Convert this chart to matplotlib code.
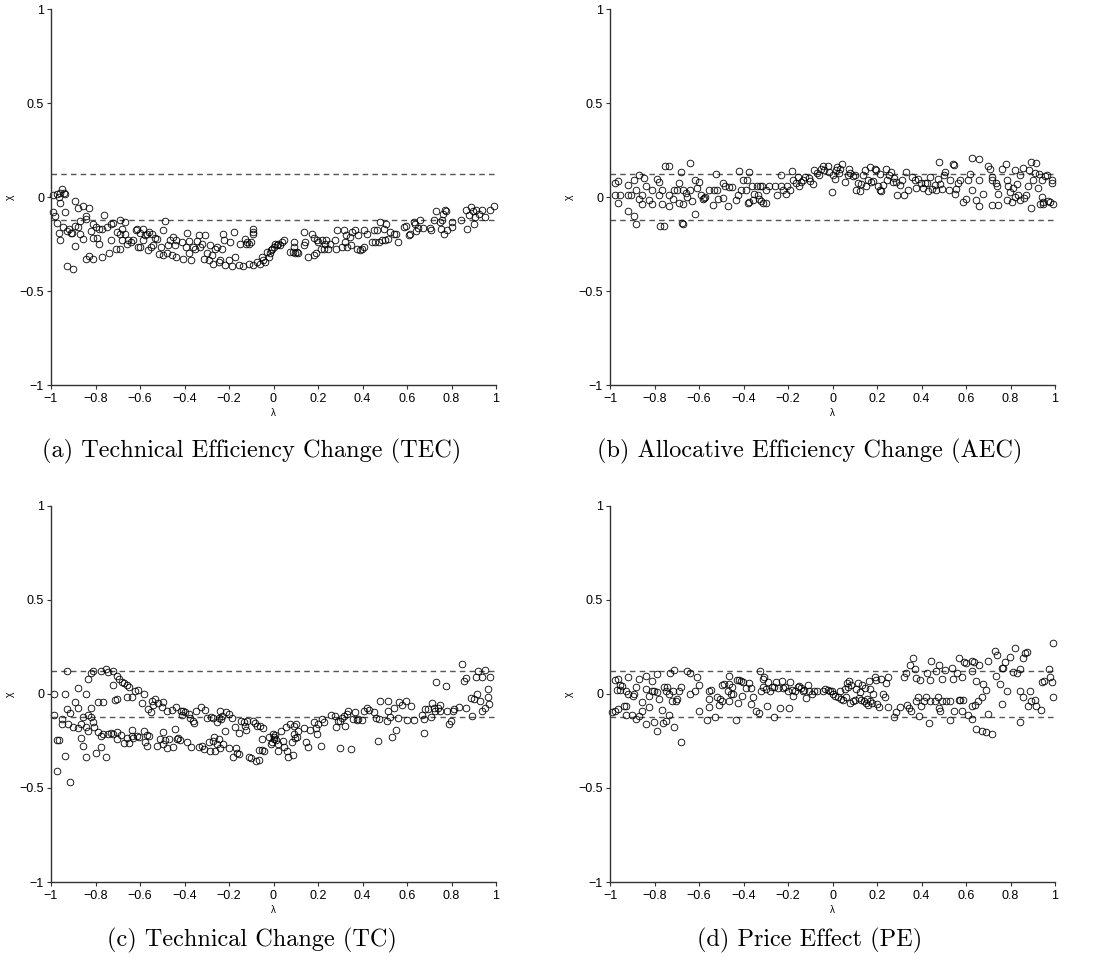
import numpy as np
import matplotlib
matplotlib.use("Agg")
import matplotlib.pyplot as plt

plt.rcParams['font.family'] = ['Liberation Sans', 'DejaVu Sans']

# (a) Technical Efficiency Change
tec_lam = [-0.99, -0.975, -0.96, -0.95, -0.94, -0.935, -0.96, -0.965, -0.99, -0.98, -0.975, -0.965,
           -0.96, -0.945, -0.935, -0.93, -0.92, -0.91, -0.905, -0.93, -0.903,
           -0.89, -0.88, -0.87, -0.89, -0.88, -0.89, -0.87, -0.855, -0.855, -0.843, -0.843, -0.83,
           -0.843, -0.83, -0.81, -0.82, -0.81, -0.81, -0.8, -0.795, -0.785, -0.785, -0.77, -0.77,
           -0.763, -0.75, -0.74, -0.73, -0.73, -0.72, -0.71, -0.705, -0.69, -0.69, -0.69, -0.68,
           -0.68, -0.667, -0.667, -0.66, -0.652, -0.64, -0.63, -0.618, -0.615, -0.607, -0.6, -0.6,
           -0.588, -0.585, -0.577, -0.57, -0.562, -0.558, -0.552, -0.544, -0.54, -0.532, -0.525,
           -0.513, -0.505, -0.495, -0.487, -0.495, -0.48, -0.472, -0.465, -0.457, -0.45, -0.442,
           -0.436, -0.436, -0.412, -0.405, -0.394, -0.39, -0.382, -0.38, -0.372, -0.363, -0.352,
           -0.342, -0.333, -0.33, -0.322, -0.312, -0.307, -0.3, -0.292, -0.285, -0.277, -0.27,
           -0.262, -0.255, -0.247, -0.24, -0.232, -0.225, -0.222, -0.217, -0.202, -0.195, -0.187,
           -0.177, -0.172, -0.157, -0.15, -0.135, -0.127, -0.124, -0.117, -0.11, -0.112, -0.102,
           -0.09, -0.09, -0.09, -0.094, -0.075, -0.06, -0.052, -0.045, -0.037, -0.03, -0.022,
           -0.015, -0.012, -0.007, 0.0, 0.007, 0.015, 0.022, 0.03, 0.037, 0.045, 0.075, 0.087,
           0.093, 0.093, 0.097, 0.105, 0.112, 0.135, 0.138, 0.142, 0.157, 0.172, 0.18, 0.183, 0.19,
           0.195, 0.202, 0.213, 0.217, 0.225, 0.232, 0.237, 0.247, 0.255, 0.277, 0.285, 0.282,
           0.307, 0.315, 0.32, 0.325, 0.33, 0.345, 0.35, 0.355, 0.367, 0.375, 0.382, 0.39, 0.397,
           0.405, 0.408, 0.42, 0.442, 0.45, 0.457, 0.465, 0.472, 0.48, 0.487, 0.495, 0.502, 0.507,
           0.513, 0.525, 0.54, 0.552, 0.559, 0.588, 0.597, 0.607, 0.615, 0.63, 0.637, 0.642, 0.649,
           0.657, 0.672, 0.702, 0.708, 0.72, 0.732, 0.747, 0.753, 0.757, 0.762, 0.765, 0.772,
           0.777, 0.78, 0.8, 0.8, 0.842, 0.865, 0.87, 0.877, 0.888, 0.897, 0.903, 0.907, 0.912,
           0.922, 0.937, 0.952, 0.975, 0.99]
tec_chi = [0.01, 0.015, 0.02, 0.04, 0.02, 0.015, -0.03, 0.0, -0.08, -0.1, -0.14, -0.19,
           -0.23, -0.16, -0.08, -0.18, -0.17, -0.19, -0.19, -0.367, -0.383,
           -0.02, -0.057, -0.13, -0.155, -0.16, -0.26, -0.195, -0.225, -0.048, -0.1, -0.115, -0.06,
           -0.33, -0.315, -0.33, -0.18, -0.145, -0.22, -0.16, -0.22, -0.25, -0.17, -0.17, -0.32,
           -0.094, -0.16, -0.3, -0.23, -0.145, -0.14, -0.275, -0.186, -0.275, -0.12, -0.195, -0.17,
           -0.23, -0.133, -0.195, -0.25, -0.23, -0.24, -0.23, -0.177, -0.17, -0.266, -0.19, -0.266,
           -0.17, -0.23, -0.2, -0.195, -0.284, -0.186, -0.266, -0.195, -0.257, -0.22, -0.225,
           -0.305, -0.266, -0.177, -0.13, -0.31, -0.3, -0.257, -0.23, -0.31, -0.213, -0.257,
           -0.23, -0.32, -0.24, -0.328, -0.266, -0.19, -0.234, -0.3, -0.337, -0.266, -0.275,
           -0.234, -0.204, -0.266, -0.248, -0.328, -0.2, -0.3, -0.337, -0.253, -0.307, -0.355,
           -0.275, -0.266, -0.346, -0.337, -0.275, -0.195, -0.23, -0.363, -0.337, -0.24, -0.367,
           -0.186, -0.32, -0.363, -0.248, -0.369, -0.222, -0.248, -0.24, -0.248, -0.355, -0.24,
           -0.168, -0.186, -0.195, -0.363, -0.346, -0.355, -0.32, -0.337, -0.346, -0.293, -0.32,
           -0.3, -0.284, -0.275, -0.266, -0.248, -0.257, -0.248, -0.257, -0.24, -0.227, -0.293, -0.293,
           -0.24, -0.266, -0.3, -0.293, -0.3, -0.186, -0.257, -0.24, -0.32, -0.195, -0.31, -0.216, -0.3,
           -0.23, -0.24, -0.275, -0.227, -0.275, -0.248, -0.227, -0.275, -0.248, -0.23, -0.177, -0.275,
           -0.266, -0.177, -0.24, -0.204, -0.266, -0.213, -0.257, -0.186, -0.177, -0.275, -0.204, -0.284, -0.275,
           -0.177, -0.266, -0.195, -0.24, -0.177, -0.24, -0.177, -0.24, -0.133, -0.23, -0.168, -0.23, -0.142,
           -0.225, -0.186, -0.195, -0.195, -0.24, -0.16, -0.156, -0.204, -0.195, -0.133, -0.142, -0.18, -0.163,
           -0.124, -0.165, -0.165, -0.174, -0.124, -0.076, -0.133, -0.168, -0.124, -0.089, -0.195, -0.071,
           -0.074, -0.177, -0.133, -0.16, -0.124, -0.071, -0.168, -0.098, -0.053, -0.074, -0.145, -0.106, -0.067,
           -0.089, -0.071, -0.106, -0.071, -0.05]

# (b) Allocative Efficiency Change
aec_lam = [-0.977, -0.964, -0.977, -0.955, -0.964, -0.919, -0.917, -0.907, -0.917, -0.893, -0.881,
           -0.892, -0.881, -0.869, -0.869, -0.857, -0.857, -0.845, -0.836, -0.824, -0.812, -0.812,
           -0.791, -0.779, -0.779, -0.767, -0.767, -0.776, -0.757, -0.754, -0.734, -0.734, -0.734,
           -0.719, -0.712, -0.701, -0.692, -0.692, -0.682, -0.677, -0.671, -0.671, -0.671, -0.659,
           -0.652, -0.641, -0.641, -0.632, -0.62, -0.62, -0.61, -0.601, -0.589, -0.583, -0.578,
           -0.572, -0.554, -0.536, -0.532, -0.524, -0.517, -0.514, -0.494, -0.494, -0.485, -0.47,
           -0.467, -0.452, -0.434, -0.425, -0.419, -0.41, -0.404, -0.391, -0.383, -0.381, -0.374,
           -0.374, -0.362, -0.356, -0.351, -0.341, -0.336, -0.329, -0.326, -0.321, -0.317, -0.311,
           -0.299, -0.299, -0.287, -0.257, -0.251, -0.231, -0.231, -0.221, -0.209, -0.206, -0.191,
           -0.183, -0.179, -0.164, -0.156, -0.149, -0.141, -0.134, -0.125, -0.107, -0.101, -0.089,
           -0.081, -0.071, -0.059, -0.051, -0.044, -0.036, -0.021, -0.014, -0.002, 0.002, 0.009,
           0.017, 0.021, 0.029, 0.035, 0.044, 0.054, 0.069, 0.074, 0.08, 0.092, 0.099, 0.107, 0.114,
           0.122, 0.129, 0.137, 0.144, 0.152, 0.159, 0.17, 0.174, 0.182, 0.189, 0.197, 0.204, 0.212,
           0.215, 0.219, 0.227, 0.239, 0.245, 0.254, 0.264, 0.272, 0.275, 0.287, 0.291, 0.302, 0.314,
           0.32, 0.332, 0.339, 0.359, 0.369, 0.377, 0.384, 0.399, 0.407, 0.414, 0.425, 0.429, 0.437,
           0.449, 0.459, 0.464, 0.474, 0.479, 0.485, 0.494, 0.5, 0.505, 0.524, 0.53, 0.542, 0.547,
           0.55, 0.557, 0.563, 0.575, 0.587, 0.599, 0.607, 0.617, 0.628, 0.628, 0.647, 0.658, 0.658,
           0.659, 0.677, 0.7, 0.71, 0.715, 0.719, 0.719, 0.734, 0.74, 0.745, 0.745, 0.764, 0.779,
           0.785, 0.79, 0.785, 0.797, 0.805, 0.812, 0.82, 0.82, 0.83, 0.835, 0.842, 0.842, 0.854,
           0.86, 0.868, 0.877, 0.884, 0.89, 0.89, 0.902, 0.91, 0.914, 0.925, 0.928, 0.932, 0.94,
           0.94, 0.944, 0.947, 0.955, 0.962, 0.97, 0.977, 0.985, 0.988, 0.992]
aec_chi = [0.074, 0.085, 0.012, 0.012, -0.032, 0.066, 0.012, 0.012, -0.076, -0.1, -0.145,
           0.089, 0.035, 0.115, -0.012, -0.035, 0.012, 0.103, 0.057, -0.018, -0.035, 0.039,
           0.098, 0.08, 0.012, 0.039, -0.035, -0.156, -0.156, 0.163, 0.163, 0.012, -0.05,
           -0.012, 0.035, 0.039, 0.074, -0.03, 0.133, -0.138, -0.142, -0.039, 0.035, 0.023,
           0.0, 0.181, 0.039, -0.023, 0.092, -0.092, 0.05, 0.08, 0.009, -0.012, -0.004,
           0.0, 0.039, -0.044, 0.039, 0.124, 0.035, -0.012, 0.074, -0.004, 0.057, -0.048,
           0.053, 0.053, -0.018, 0.009, 0.138, 0.039, 0.092, 0.039, 0.089, -0.032, 0.133,
           -0.027, 0.057, -0.014, 0.018, 0.057, 0.009, -0.009, 0.057, -0.023, 0.057, -0.032,
           -0.032, 0.035, 0.057, 0.057, 0.009, 0.115, 0.057, 0.035, 0.018, 0.057, 0.035,
           0.137, 0.092, 0.074, 0.106, 0.057, 0.08, 0.092, 0.106, 0.103, 0.083, 0.071,
           0.142, 0.128, 0.115, 0.151, 0.163, 0.145, 0.163, 0.133, 0.027, 0.115, 0.094,
           0.142, 0.16, 0.128, 0.151, 0.174, 0.08, 0.115, 0.151, 0.128, 0.11, 0.115, 0.035, 0.074,
           0.032, 0.071, 0.115, 0.142, 0.057, 0.092, 0.16, 0.08, 0.085, 0.151, 0.142, 0.057, 0.039,
           0.12, 0.032, 0.062, 0.151, 0.092, 0.115, 0.133, 0.08, 0.103, 0.08, 0.009, 0.062, 0.089,
           0.012, 0.133, 0.039, 0.106, 0.089, 0.05, 0.098, 0.074, 0.05, 0.074, 0.074, 0.032, 0.106,
           0.044, 0.062, 0.039, 0.098, 0.186, 0.067, 0.044, 0.115, 0.133, 0.039, 0.092, 0.177, 0.168,
           0.018, 0.044, 0.074, 0.092, -0.027, -0.012, 0.089, 0.12, 0.209, 0.035, -0.014, 0.2, -0.05,
           0.089, 0.018, 0.165, 0.151, 0.089, 0.106, -0.044, 0.074, 0.057, 0.018, -0.041, 0.151, 0.177,
           0.092, 0.057, -0.014, 0.027, -0.027, 0.05, 0.142, 0.0, 0.071, 0.009, 0.119, -0.018, 0.156,
           -0.004, 0.009, 0.057, 0.142, -0.059, 0.186, 0.092, 0.128, 0.183, 0.05, 0.12, -0.035, 0.089,
           0.0, -0.035, -0.027, 0.11, 0.115, -0.021, -0.027, 0.089, 0.074, -0.039]

# (c) Technical Change
tc_lam = [-0.987, -0.987, -0.975, -0.963, -0.975, -0.951, -0.951, -0.939, -0.939, -0.927, -0.927,
          -0.922, -0.915, -0.915, -0.903, -0.891, -0.877, -0.877, -0.877, -0.867, -0.867, -0.855,
          -0.855, -0.843, -0.843, -0.843, -0.832, -0.832, -0.832, -0.822, -0.82, -0.82, -0.81, -0.81,
          -0.807, -0.798, -0.787, -0.787, -0.777, -0.777, -0.777, -0.765, -0.765, -0.753, -0.753,
          -0.742, -0.742, -0.732, -0.72, -0.72, -0.72, -0.712, -0.705, -0.702, -0.702, -0.702,
          -0.693, -0.687, -0.682, -0.672, -0.672, -0.66, -0.66, -0.66, -0.648, -0.648, -0.637,
          -0.637, -0.637, -0.63, -0.622, -0.615, -0.61, -0.603, -0.592, -0.582, -0.582, -0.577,
          -0.57, -0.57, -0.562, -0.558, -0.552, -0.547, -0.54, -0.532, -0.525, -0.517, -0.51,
          -0.502, -0.498, -0.495, -0.495, -0.487, -0.48, -0.48, -0.468, -0.457, -0.453, -0.442,
          -0.438, -0.435, -0.427, -0.42, -0.417, -0.412, -0.405, -0.397, -0.39, -0.382, -0.375,
          -0.372, -0.363, -0.357, -0.348, -0.333, -0.327, -0.322, -0.312, -0.307, -0.3, -0.292,
          -0.285, -0.282, -0.273, -0.27, -0.267, -0.262, -0.255, -0.252, -0.247, -0.244, -0.24,
          -0.24, -0.237, -0.232, -0.225, -0.217, -0.213, -0.202, -0.198, -0.187, -0.18, -0.175,
          -0.168, -0.162, -0.157, -0.153, -0.147, -0.132, -0.127, -0.123, -0.117, -0.108, -0.102,
          -0.094, -0.082, -0.078, -0.072, -0.067, -0.067, -0.06, -0.052, -0.052, -0.045, -0.042,
          -0.018, -0.012, -0.007, -0.003, 0.0, 0.003, 0.007, 0.012, 0.018, 0.022, 0.033, 0.042,
          0.048, 0.055, 0.06, 0.067, 0.075, 0.082, 0.087, 0.09, 0.093, 0.097, 0.102, 0.105, 0.112,
          0.138, 0.147, 0.153, 0.162, 0.183, 0.192, 0.195, 0.198, 0.213, 0.217, 0.228, 0.258,
          0.277, 0.282, 0.288, 0.297, 0.3, 0.307, 0.315, 0.322, 0.33, 0.337, 0.348, 0.357, 0.367,
          0.375, 0.382, 0.397, 0.405, 0.42, 0.427, 0.45, 0.462, 0.468, 0.472, 0.48, 0.51, 0.513,
          0.514, 0.525, 0.532, 0.543, 0.552, 0.558, 0.562, 0.577, 0.597, 0.6, 0.618, 0.63, 0.667,
          0.678, 0.678, 0.682, 0.693, 0.708, 0.712, 0.722, 0.727, 0.732, 0.738, 0.747, 0.75, 0.777,
          0.78, 0.787, 0.797, 0.806, 0.813, 0.832, 0.847, 0.855, 0.867, 0.867, 0.888, 0.892, 0.9,
          0.912, 0.915, 0.918, 0.927, 0.937, 0.937, 0.952, 0.952, 0.962, 0.962, 0.967, 0.975]
tc_chi = [0.0, -0.11, -0.245, -0.245, -0.408, -0.133, -0.16, 0.0, -0.328, 0.12, -0.08,
          -0.16, -0.103, -0.466, -0.174, -0.044, 0.032, -0.076, -0.181, -0.234, -0.16, -0.275,
          -0.124, 0.0, -0.174, -0.333, 0.08, -0.112, -0.199, 0.112, -0.076, -0.124, 0.12, -0.151,
          -0.177, -0.316, -0.044, -0.204, -0.284, -0.222, 0.12, -0.041, -0.213, 0.133, -0.337,
          0.115, -0.213, -0.207, 0.12, 0.05, -0.213, -0.032, -0.204, -0.027, 0.098, -0.239,
          0.08, -0.216, 0.066, 0.057, -0.262, 0.05, -0.014, -0.234, 0.035, -0.262, -0.018,
          -0.191, -0.222, -0.234, 0.014, -0.222, 0.021, -0.23, -0.05, 0.0, -0.199, -0.257,
          -0.275, -0.216, -0.08, -0.222, -0.098, -0.035, -0.057, -0.027, -0.275, -0.05, -0.239,
          -0.071, -0.044, -0.204, -0.266, -0.243, -0.287, -0.089, -0.239, -0.085, -0.284, -0.186,
          -0.071, -0.239, -0.234, -0.245, -0.089, -0.112, -0.092, -0.098, -0.257, -0.106, -0.128,
          -0.284, -0.145, -0.156, -0.092, -0.28, -0.071, -0.275, -0.293, -0.085, -0.128, -0.257,
          -0.305, -0.124, -0.248, -0.129, -0.227, -0.305, -0.151, -0.266, -0.239, -0.128, -0.289,
          -0.092, -0.133, -0.115, -0.266, -0.199, -0.098, -0.106, -0.287, -0.128, -0.333, -0.174,
          -0.287, -0.316, -0.209, -0.319, -0.145, -0.151, -0.168, -0.191, -0.145, -0.337, -0.34,
          -0.142, -0.156, -0.355, -0.168, -0.351, -0.298, -0.168, -0.298, -0.239, -0.181, -0.301,
          -0.23, -0.266, -0.257, -0.213, -0.239, -0.23, -0.216, -0.245, -0.266, -0.301, -0.199, -0.248,
          -0.284, -0.174, -0.301, -0.333, -0.16, -0.257, -0.323, -0.213, -0.168, -0.234, -0.16, -0.23, -0.199,
          -0.181, -0.257, -0.28, -0.191, -0.151, -0.181, -0.213, -0.16, -0.275, -0.133, -0.151, -0.112,
          -0.115, -0.174, -0.145, -0.145, -0.289, -0.128, -0.115, -0.168, -0.106, -0.089, -0.293, -0.133, -0.098,
          -0.138, -0.133, -0.138, -0.089, -0.076, -0.085, -0.098, -0.128, -0.248, -0.133, -0.035, -0.142, -0.089,
          -0.035, -0.12, -0.23, -0.074, -0.191, -0.128, -0.044, -0.057, -0.039, -0.138, -0.062, -0.138, -0.11,
          -0.209, -0.133, -0.08, -0.08, -0.12, -0.048, -0.076, -0.089, 0.066, -0.074, -0.057, -0.089, 0.044,
          -0.089, -0.16, -0.145, -0.089, -0.08, -0.071, 0.16, 0.071, 0.085, -0.074, -0.021, -0.115, -0.027,
          0.089, 0.0, 0.12, -0.035, 0.089, -0.089, 0.129, -0.074, 0.027, -0.018, -0.053, 0.089]

# (d) Price Effect
pe_lam = [-0.99, -0.977, -0.977, -0.964, -0.964, -0.967, -0.955, -0.955, -0.947, -0.937, -0.929,
          -0.926, -0.926, -0.917, -0.917, -0.902, -0.896, -0.892, -0.881, -0.881, -0.869, -0.869,
          -0.857, -0.857, -0.836, -0.836, -0.836, -0.824, -0.824, -0.812, -0.812, -0.802, -0.802,
          -0.791, -0.791, -0.787, -0.779, -0.767, -0.761, -0.757, -0.749, -0.749, -0.742, -0.737,
          -0.734, -0.731, -0.722, -0.719, -0.712, -0.712, -0.704, -0.701, -0.692, -0.682, -0.682,
          -0.652, -0.641, -0.641, -0.62, -0.61, -0.601, -0.601, -0.565, -0.554, -0.554, -0.547,
          -0.554, -0.527, -0.517, -0.509, -0.506, -0.497, -0.497, -0.486, -0.471, -0.464, -0.464,
          -0.464, -0.456, -0.452, -0.449, -0.434, -0.429, -0.423, -0.419, -0.411, -0.407, -0.401,
          -0.389, -0.374, -0.366, -0.366, -0.359, -0.344, -0.332, -0.326, -0.321, -0.314, -0.311,
          -0.306, -0.299, -0.294, -0.291, -0.281, -0.272, -0.261, -0.261, -0.254, -0.246, -0.236,
          -0.227, -0.221, -0.212, -0.201, -0.197, -0.191, -0.182, -0.176, -0.167, -0.156, -0.149,
          -0.141, -0.134, -0.126, -0.119, -0.111, -0.104, -0.092, -0.081, -0.071, -0.044, -0.032,
          -0.021, -0.011, -0.002, 0.002, 0.009, 0.024, 0.032, 0.039, 0.047, 0.054, 0.059, 0.065,
          0.069, 0.074, 0.08, 0.084, 0.092, 0.099, 0.107, 0.114, 0.119, 0.125, 0.129, 0.134, 0.14,
          0.144, 0.149, 0.155, 0.159, 0.164, 0.167, 0.17, 0.176, 0.182, 0.189, 0.194, 0.2, 0.209,
          0.219, 0.227, 0.234, 0.239, 0.249, 0.249, 0.275, 0.287, 0.302, 0.32, 0.332, 0.335, 0.344,
          0.347, 0.354, 0.362, 0.369, 0.374, 0.377, 0.384, 0.387, 0.395, 0.399, 0.41, 0.422, 0.425,
          0.434, 0.437, 0.44, 0.444, 0.459, 0.467, 0.474, 0.479, 0.479, 0.485, 0.49, 0.494, 0.505,
          0.509, 0.53, 0.53, 0.535, 0.542, 0.545, 0.56, 0.569, 0.569, 0.575, 0.58, 0.58, 0.587,
          0.59, 0.599, 0.61, 0.625, 0.628, 0.628, 0.629, 0.635, 0.64, 0.647, 0.647, 0.655, 0.659,
          0.67, 0.67, 0.677, 0.689, 0.689, 0.7, 0.7, 0.719, 0.73, 0.734, 0.74, 0.752, 0.76, 0.764,
          0.767, 0.775, 0.785, 0.797, 0.809, 0.82, 0.83, 0.842, 0.842, 0.842, 0.854, 0.854, 0.865,
          0.875, 0.88, 0.887, 0.89, 0.91, 0.914, 0.935, 0.94, 0.95, 0.974, 0.977, 0.985, 0.989, 0.989]
pe_chi = [-0.098, -0.089, 0.074, -0.08, 0.08, 0.021, 0.05, 0.021, 0.044, -0.062, 0.014,
          -0.062, -0.11, 0.092, 0.0, -0.11, -0.009, 0.0, 0.039, -0.133, 0.08, -0.115,
          -0.089, -0.044, -0.16, 0.027, 0.098, -0.009, -0.071, 0.067, 0.014, 0.014, -0.151,
          -0.199, 0.106, 0.009, -0.027, -0.085, -0.156, 0.039, -0.142, 0.014, 0.039, 0.0,
          -0.11, 0.11, -0.035, 0.014, 0.128, -0.177, -0.039, -0.027, 0.014, -0.257, 0.039,
          0.12, 0.11, 0.0, 0.014, 0.089, 0.05, -0.092, -0.138, 0.014, -0.027, 0.021,
          -0.067, -0.12, -0.018, -0.057, -0.027, 0.05, -0.039, 0.053, 0.014, 0.098, 0.053,
          -0.035, 0.0, 0.039, 0.0, -0.138, 0.074, -0.05, 0.074, 0.067, -0.009, 0.062,
          0.032, 0.057, 0.032, -0.053, -0.018, -0.092, -0.103, 0.12, 0.014, 0.08, 0.035,
          0.092, 0.027, -0.062, 0.062, 0.014, 0.039, 0.039, -0.12, 0.062, 0.032, -0.074,
          0.067, 0.032, 0.035, 0.018, -0.074, 0.062, 0.021, -0.009, 0.018, 0.039, 0.044,
          0.032, 0.014, 0.021, -0.021, 0.05, 0.014, 0.0, 0.014, 0.018, 0.014, 0.027,
          0.021, 0.014, 0.018, 0.0, -0.009, -0.014, 0.014, -0.027, -0.032, 0.027, -0.018, 0.057,
          0.035, 0.067, -0.05, 0.05, -0.035, -0.032, 0.027, 0.057, -0.021, 0.009, -0.032, 0.05, -0.035,
          0.032, -0.05, -0.027, -0.057, 0.071, -0.039, 0.027, -0.05, 0.0, 0.092, 0.074, -0.053, -0.067,
          0.08, 0.0, -0.014, 0.057, 0.089, -0.071, -0.124, -0.098, -0.071, 0.092, 0.11, -0.057, -0.074,
          0.156, -0.089, 0.191, 0.133, -0.035, 0.085, -0.014, -0.115, 0.074, -0.062, -0.035, -0.014, 0.11,
          -0.156, 0.074, -0.035, 0.177, -0.039, 0.12, -0.018, 0.156, -0.074, -0.089, -0.035, 0.08, 0.128,
          -0.035, -0.039, -0.138, 0.138, 0.08, -0.089, 0.11, 0.191, -0.032, -0.032, 0.089, -0.092, -0.032,
          0.168, 0.163, -0.11, 0.177, 0.12, -0.133, -0.062, 0.168, -0.057, 0.071, -0.186, -0.039, 0.156,
          -0.018, -0.199, 0.053, 0.021, -0.204, -0.106, 0.177, -0.213, 0.23, 0.098, 0.209, 0.053, 0.138, -0.053,
          0.138, 0.168, 0.014, 0.195, 0.115, 0.245, 0.11, 0.133, 0.014, -0.151, 0.191, -0.018, 0.216,
          0.222, -0.062, 0.014, -0.035, -0.032, -0.062, -0.085, 0.062, 0.071, 0.133, 0.092, 0.062, 0.27, -0.014]

captions = ["(a) Technical Efficiency Change (TEC)",
            "(b) Allocative Efficiency Change (AEC)",
            "(c) Technical Change (TC)",
            "(d) Price Effect (PE)"]
series = [(tec_lam, tec_chi), (aec_lam, aec_chi), (tc_lam, tc_chi), (pe_lam, pe_chi)]
band = 0.124

xticks = [-1, -0.8, -0.6, -0.4, -0.2, 0, 0.2, 0.4, 0.6, 0.8, 1]
xticklabels = ["\u22121", "\u22120.8", "\u22120.6", "\u22120.4", "\u22120.2", "0",
               "0.2", "0.4", "0.6", "0.8", "1"]
yticks = [-1, -0.5, 0, 0.5, 1]
yticklabels = ["\u22121", "\u22120.5", "0", "0.5", "1"]

W, H = 1101, 963
fig = plt.figure(figsize=(W / 100, H / 100), dpi=100)

# axes boxes in pixels: left, top, right, bottom
boxes = [(51, 9, 496, 385), (610, 9, 1055, 385),
         (51, 506, 496, 882), (610, 506, 1055, 882)]
cap_pos = [(252, 457), (810, 457), (252, 946), (810, 946)]

for (l, t, r, b), (lam, chi), cap, (cx, cy) in zip(boxes, series, captions, cap_pos):
    ax = fig.add_axes([l / W, 1 - b / H, (r - l) / W, (b - t) / H])
    ax.axhline(band, color='#555555', lw=1.0, ls=(0, (4, 3)))
    ax.axhline(-band, color='#555555', lw=1.0, ls=(0, (4, 3)))
    ax.plot(lam, chi, 'o', ms=4.8, mfc='none', mec='black', mew=0.6, clip_on=False)
    ax.set_xlim(-1, 1)
    ax.set_ylim(-1, 1)
    for s in ['top', 'right']:
        ax.spines[s].set_visible(False)
    for s in ['left', 'bottom']:
        ax.spines[s].set_color('#333333')
        ax.spines[s].set_linewidth(1.0)
    ax.set_xticks(xticks)
    ax.set_xticklabels(xticklabels)
    ax.set_yticks(yticks)
    ax.set_yticklabels(yticklabels)
    ax.tick_params(direction='out', length=3, width=0.8, color='#333333',
                   labelsize=9, pad=2)
    ax.tick_params(axis='x', pad=3)
    ax.set_xlabel("\u03bb", fontsize=7)
    ax.set_ylabel("\u03c7", fontsize=7.5)
    ax.xaxis.set_label_coords(0.5, -0.062)
    ax.yaxis.set_label_coords(-0.082, 0.5)
    fig.text(cx / W, 1 - cy / H, cap, fontsize=17.5, family='cmr10',
             ha='center', va='baseline')

fig.savefig("out.png", dpi=100)
